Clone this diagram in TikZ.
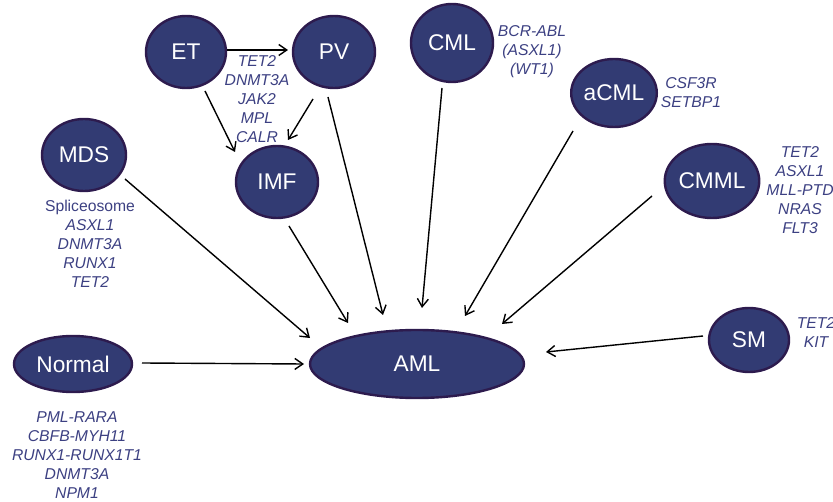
\documentclass[tikz,border=0pt]{standalone}
\usepackage{fontspec}
\setmainfont{Liberation Sans}
\usetikzlibrary{shapes.geometric,arrows.meta,calc}
\definecolor{nodefill}{RGB}{50,59,115}
\definecolor{nodeborder}{RGB}{45,27,78}
\definecolor{genecol}{RGB}{60,64,130}
\begin{document}
\begin{tikzpicture}[x=1pt,y=-1pt,
  disease/.style={ellipse, draw=nodeborder, line width=2.4pt, fill=nodefill, text=white, inner sep=0pt, font=\fontsize{22.7}{27}\selectfont},
  genes/.style={text=genecol, align=center, inner sep=0pt, anchor=north, font=\fontsize{15.7}{19}\selectfont\itshape},
  link/.style={draw=black, line width=1.4pt, -{Straight Barb[length=8pt,width=11pt]}}]
\useasboundingbox (0,0) rectangle (833,502);
\clip (0,0) rectangle (833,502);
% disease nodes
\node[disease, minimum width=80pt, minimum height=72pt] (ET) at (186,52) {ET};
\node[disease, minimum width=82pt, minimum height=72pt] (PV) at (334,52) {PV};
\node[disease, minimum width=82pt, minimum height=72pt] (IMF) at (277,182) {IMF};
\node[disease, minimum width=82pt, minimum height=78pt] (CML) at (452,43) {CML};
\node[disease, minimum width=82pt, minimum height=68pt] (aCML) at (614,93) {aCML};
\node[disease, minimum width=92pt, minimum height=74pt] (CMML) at (712,181) {CMML};
\node[disease, minimum width=84pt, minimum height=72pt] (MDS) at (84,155) {MDS};
\node[disease, minimum width=118pt, minimum height=56pt] (Normal) at (73,364) {Normal};
\node[disease, minimum width=80pt, minimum height=64pt] (SM) at (749,340) {SM};
\node[disease, minimum width=214pt, minimum height=68pt] (AML) at (417,364) {AML};
% gene labels
\node[genes] (gMPN) at (257,55) {TET2\\DNMT3A\\JAK2\\MPL\\CALR};
\node[genes] (gCML) at (532,25) {BCR-ABL\\(ASXL1)\\(WT1)};
\node[genes] (gaCML) at (691,77) {CSF3R\\SETBP1};
\node[genes] (gCMML) at (800,146) {TET2\\ASXL1\\MLL-PTD\\NRAS\\FLT3};
\node[genes] (gMDS) at (90,200) {\upshape Spliceosome\\ASXL1\\DNMT3A\\RUNX1\\TET2};
\node[genes] (gNormal) at (77,411) {PML-RARA\\CBFB-MYH11\\RUNX1-RUNX1T1\\DNMT3A\\NPM1};
\node[genes] (gSM) at (816,317) {TET2\\KIT};
% connectors
\draw[link] ($(ET)+(41,-2)$) -- ($(PV)+(-46,-2)$);
\draw[link] ($(ET)+(19,39)$) -- ($(IMF)+(-42,-30)$);
\draw[link] ($(PV)+(-21,47)$) -- ($(IMF)+(11,-42)$);
\draw[link] ($(PV)+(-6,45)$) -- ($(AML)+(-34,-49)$);
\draw[link] ($(IMF)+(12,44)$) -- ($(AML)+(-69,-41)$);
\draw[link] ($(MDS)+(41,24)$) -- ($(AML)+(-107,-26)$);
\draw[link] ($(CML)+(-10,45)$) -- ($(AML)+(5,-56)$);
\draw[link] ($(aCML)+(-41,38)$) -- ($(AML)+(48,-48)$);
\draw[link] ($(CMML)+(-60,15)$) -- ($(AML)+(85,-40)$);
\draw[link] ($(Normal)+(69,-1)$) -- ($(AML)+(-113,0)$);
\draw[link] ($(SM)+(-46,-4)$) -- ($(AML)+(129,-12)$);
\end{tikzpicture}
\end{document}
